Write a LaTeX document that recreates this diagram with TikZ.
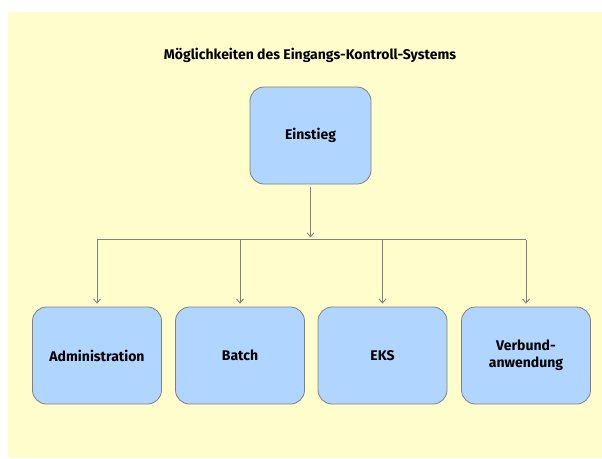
\documentclass[tikz,border=0pt]{standalone}
\usepackage{fontspec}
\setmainfont{Fira Sans}
\usetikzlibrary{positioning,arrows.meta}

\definecolor{bgyellow}{RGB}{255,253,204}
\definecolor{boxblue}{RGB}{176,214,255}
\definecolor{linegray}{RGB}{128,128,128}

\begin{document}
\begin{tikzpicture}[x=1pt, y=-1pt,
        box/.style={draw=linegray, fill=boxblue, line width=0.8pt, rounded corners=14pt,
            minimum width=129pt, minimum height=97pt, align=center,
            font=\fontsize{14}{17}\selectfont\bfseries},
        conn/.style={draw=linegray, line width=0.9pt},
        tip/.style={-{Straight Barb[length=4pt, width=7pt]}}]
    \useasboundingbox (0,0) rectangle (602,458);
    \fill[bgyellow] (8,12) rectangle (602,458);

    \node[font=\fontsize{14}{17}\selectfont\bfseries] (title) at (310,55) {Möglichkeiten des Eingangs-Kontroll-Systems};

    % oberste Ebene
    \node[box, minimum width=121pt] (einstieg) at (310.5,135.5) {Einstieg};

    % untere Ebene
    \node[box] (admin) at (97,355.5) {Administration};
    \node[box] (batch) at (240,355.5) {Batch};
    \node[box] (eks) at (382.5,355.5) {EKS};
    \node[box] (verbund) at (526,355.5) {Verbund-\\anwendung};

    \coordinate (split) at (310.5,239.5);
    \draw[conn, tip, shorten <=3pt, shorten >=2pt] (einstieg) -- (split);
    \draw[conn] (admin |- split) -- (verbund |- split);

    \draw[conn, tip, shorten >=3pt] (admin |- split) -- (admin.north);
    \draw[conn, tip, shorten >=3pt] (batch |- split) -- (batch.north);
    \draw[conn, tip, shorten >=3pt] (eks |- split) -- (eks.north);
    \draw[conn, tip, shorten >=3pt] (verbund |- split) -- (verbund.north);
\end{tikzpicture}
\end{document}
